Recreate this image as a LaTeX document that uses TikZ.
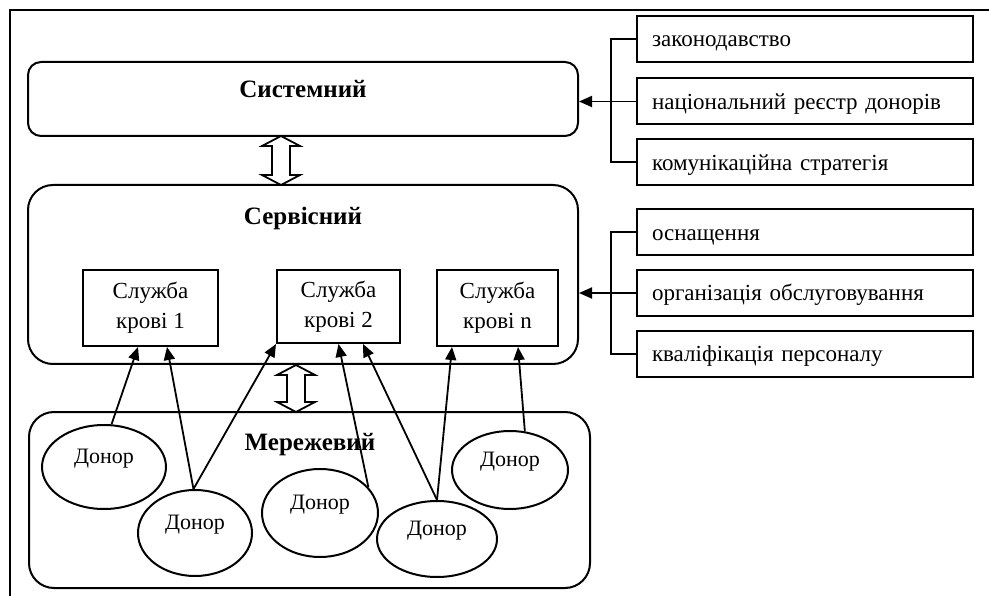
\documentclass[tikz,border=0pt]{standalone}
\usepackage{fontspec}
\setmainfont{Liberation Serif}
\usetikzlibrary{arrows.meta,shapes.geometric}

\begin{document}
\begin{tikzpicture}[
        x=1pt, y=-1pt, % pixel-like units, y grows downwards
        line width=2pt,
        level/.style={draw, rounded corners=#1, inner sep=0pt},
        title/.style={font=\fontsize{25}{30}\selectfont\bfseries},
        service/.style={draw, inner sep=0pt, align=center,
            font=\fontsize{23}{30}\selectfont},
        factor/.style={draw, minimum width=336pt, minimum height=46pt,
            inner sep=0pt, text width=306pt, align=left,
            text height=16pt, text depth=0pt,
            font=\fontsize{23}{27}\selectfont},
        donor/.style={draw, ellipse, inner sep=0pt,
            label={[yshift=8pt, font=\fontsize{22}{26}\selectfont]center:Донор}},
        arr/.style={-{Triangle[length=13pt, width=11pt]}, line width=1.8pt},
        outl/.style={line width=1.8pt, fill=white}
    ]
    \useasboundingbox (0,0) rectangle (989,596);

    % --- frame (top and left only) ---
    \draw[line width=2.8pt] (10,596) -- (10,10) -- (989,10);

    % --- levels ---
    \node[level=13pt, minimum width=550pt, minimum height=74pt] (sys) at (303,99) {};
    \node[title] (systit) at (303,89) {Системний};
    \node[level=25pt, minimum width=550pt, minimum height=179pt] (serv) at (303,274.5) {};
    \node[title] (servtit) at (303,218) {Сервісний};
    \node[level=25pt, minimum width=561pt, minimum height=176pt] (net) at (309.5,500) {};
    \node[title] (nettit) at (310,445) {Мережевий};

    % --- double arrows between levels ---
    \def\hw{19} % half width of the head
    \def\sw{9}  % half width of the shaft
    \def\hl{10} % head length
    \foreach \x/\t/\b in {281/136/185, 296/365/412} {
        \draw[outl] (\x,\t) -- (\x+\hw,\t+\hl) -- (\x+\sw,\t+\hl) -- (\x+\sw,\b-\hl)
            -- (\x+\hw,\b-\hl) -- (\x,\b) -- (\x-\hw,\b-\hl) -- (\x-\sw,\b-\hl)
            -- (\x-\sw,\t+\hl) -- (\x-\hw,\t+\hl) -- cycle;
    }

    % --- blood services ---
    \node[service, minimum width=135pt, minimum height=76pt] (b1) at (150.5,308) {Служба\\кровi 1};
    \node[service, minimum width=123pt, minimum height=73pt] (b2) at (338.5,306.5) {Служба\\кровi 2};
    \node[service, minimum width=121pt, minimum height=76pt] (b3) at (497.5,308) {Служба\\кровi n};

    % --- factors on the right ---
    \node[factor] (r1) at (805,39) {законодавство};
    \node[factor] (r2) at (805,101.5) {національний реєстр донорів};
    \node[factor] (r3) at (805,162.5) {комунікаційна стратегія};
    \node[factor] (r4) at (805,232.5) {оснащення};
    \node[factor] (r5) at (805,293) {організація обслуговування};
    \node[factor] (r6) at (805,354) {кваліфікація персоналу};

    \draw (r1.west) -- ++(-25,0) |- (r3.west);
    \draw[arr] (r2.west) -- (sys.east |- r2.west);
    \draw (r4.west) -- ++(-25,0) |- (r6.west);
    \draw[arr] (r5.west) -- (serv.east |- r5.west);

    % --- donors ---
    \node[donor, minimum width=124pt, minimum height=84pt] (d1) at (104,467) {};
    \node[donor, minimum width=114pt, minimum height=86pt] (d2) at (195,533) {};
    \node[donor, minimum width=116pt, minimum height=88pt] (d3) at (320,513) {};
    \node[donor, minimum width=120pt, minimum height=76pt] (d4) at (437,539) {};
    \node[donor, minimum width=116pt, minimum height=78pt] (d5) at (510,470) {};

    % --- donors to services ---
    \draw[arr] (d1.80) -- ([xshift=-12.5pt]b1.south);
    \draw[arr] (d2.92) -- ([xshift=16.5pt]b1.south);
    \draw[arr] (d2.92) -- (b2.south west);
    \draw[arr] (d3.28) -- (b2.south);
    \draw[arr] (d4.north) -- ([xshift=24.5pt]b2.south);
    \draw[arr] (d4.north) -- ([xshift=-45.5pt]b3.south);
    \draw[arr] (d5.69) -- ([xshift=20.5pt]b3.south);

\end{tikzpicture}
\end{document}
